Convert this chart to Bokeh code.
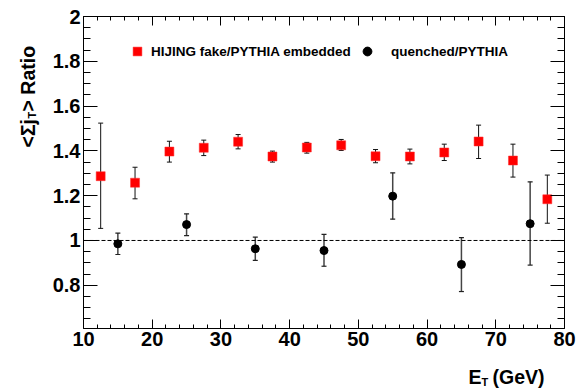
import math
from bokeh.plotting import figure
from bokeh.models import (ColumnDataSource, Whisker, TeeHead, Label, Legend, LegendItem,
                          LinearAxis, SingleIntervalTicker, CustomJSTickFormatter, Range1d)
from bokeh.embed import file_html
from bokeh.resources import INLINE

# ---- data ----
et_hijing = [12.5, 17.5, 22.5, 27.5, 32.5, 37.5, 42.5, 47.5, 52.5, 57.5, 62.5, 67.5, 72.5, 77.5]
ratio_hijing = [1.287, 1.258, 1.397, 1.414, 1.441, 1.375, 1.415, 1.425, 1.376, 1.375, 1.393, 1.442, 1.357, 1.184]
hi_hijing = [1.524, 1.327, 1.443, 1.448, 1.473, 1.399, 1.438, 1.451, 1.406, 1.408, 1.430, 1.515, 1.430, 1.292]
lo_hijing = [1.054, 1.186, 1.350, 1.379, 1.409, 1.350, 1.390, 1.402, 1.347, 1.342, 1.357, 1.366, 1.283, 1.077]

et_quench = [15, 25, 35, 45, 55, 65, 75]
ratio_quench = [0.985, 1.071, 0.963, 0.955, 1.198, 0.893, 1.075]
hi_quench = [1.033, 1.119, 1.015, 1.027, 1.302, 1.013, 1.262]
lo_quench = [0.9375, 1.022, 0.911, 0.885, 1.095, 0.772, 0.890]

label_hijing = "HIJING fake/PYTHIA embedded"
label_quench = "quenched/PYTHIA"
x_title = ["E", "T", "(GeV)"]
y_title = ["<\u03a3j", "T", ">\u00a0Ratio"]

# ---- layout constants (pixel box of the plotting area) ----
W, H = 586, 389
L, R, T, B = 83, 564, 16, 328
X0, X1 = 10, 80
Y0, Y1 = 0.607, 2.0
SX = (R - L) / (X1 - X0)
SY = (B - T) / (Y1 - Y0)

def xd(px):
    return X0 + (px - L) / SX

def yd(py):
    return Y1 - (py - T) / SY

FONT = "Liberation Sans"

p = figure(width=W, height=H, output_backend="svg", toolbar_location=None, title=None,
           x_range=Range1d(xd(0), xd(W)), y_range=Range1d(yd(H), yd(0)),
           x_axis_location=None, y_axis_location=None,
           min_border_left=0, min_border_right=0, min_border_top=0, min_border_bottom=0)
p.grid.visible = False
p.outline_line_color = None
p.background_fill_color = "white"
p.border_fill_color = "white"

yfmt = CustomJSTickFormatter(code="return Number(tick.toFixed(2)).toString();")

def make_axis(ticker, labels, major, minor, loc, bounds):
    ax = LinearAxis(ticker=ticker, axis_line_color="black", axis_line_width=1,
                    major_tick_line_color="black", minor_tick_line_color="black",
                    major_tick_in=major, major_tick_out=0, minor_tick_in=minor, minor_tick_out=0,
                    fixed_location=loc, bounds=bounds)
    if labels:
        ax.major_label_text_font = FONT
        ax.major_label_text_font_style = "bold"
        ax.major_label_text_font_size = "20px"
        ax.major_label_text_color = "black"
    else:
        ax.major_label_text_color = None
    return ax

xb = make_axis(SingleIntervalTicker(interval=10, num_minor_ticks=5), True, 9, 4, Y0, (X0, X1))
xb.major_label_standoff = 3
xt = make_axis(SingleIntervalTicker(interval=10, num_minor_ticks=5), False, 9, 4, Y1, (X0, X1))
yl = make_axis(SingleIntervalTicker(interval=0.2, num_minor_ticks=4), True, 14, 7, X0, (Y0, Y1))
yl.major_label_standoff = 3
yl.formatter = yfmt
yr = make_axis(SingleIntervalTicker(interval=0.2, num_minor_ticks=4), False, 14, 7, X1, (Y0, Y1))
p.add_layout(xb, "below")
p.add_layout(xt, "above")
p.add_layout(yl, "left")
p.add_layout(yr, "right")

# reference line at ratio 1
p.segment(x0=[X0], y0=[1.0], x1=[X1], y1=[1.0], line_color="black", line_width=1,
          line_dash="4 2")

src_h = ColumnDataSource(dict(x=et_hijing, y=ratio_hijing, hi=hi_hijing, lo=lo_hijing))
src_q = ColumnDataSource(dict(x=et_quench, y=ratio_quench, hi=hi_quench, lo=lo_quench))

wh = Whisker(base="x", upper="hi", lower="lo", source=src_h, level="underlay",
             line_color="#111111", line_width=1,
             upper_head=TeeHead(size=5, line_color="#111111", line_width=1),
             lower_head=TeeHead(size=5, line_color="#111111", line_width=1))
wq = Whisker(base="x", upper="hi", lower="lo", source=src_q, level="underlay",
             line_color="#444444", line_width=1.5,
             upper_head=TeeHead(size=5, line_color="#222222", line_width=1.2),
             lower_head=TeeHead(size=5, line_color="#222222", line_width=1.2))
p.add_layout(wh)
p.add_layout(wq)

r_h = p.scatter("x", "y", source=src_h, marker="square", size=9, fill_color="#ff0000",
                line_color="#ff3030", line_width=0.5)
r_q = p.scatter("x", "y", source=src_q, marker="circle", size=8, fill_color="black",
                line_color="black")

def mk_legend(item_label, rend, xloc, standoff):
    lg = Legend(items=[LegendItem(label=item_label, renderers=[rend])],
                location=(xloc, H - 51 - 11), orientation="horizontal",
                background_fill_alpha=0, border_line_color=None, padding=0, margin=0,
                spacing=0, glyph_width=22, glyph_height=22, label_height=22,
                label_standoff=standoff, label_text_font=FONT, label_text_font_style="bold",
                label_text_font_size="13.5px", label_text_color="black",
                label_text_baseline="middle")
    p.add_layout(lg, "center")

mk_legend(label_hijing, r_h, 137 - 11, 3)
mk_legend(label_quench, r_q, 367 - 11, 13)

# axis titles (with subscripts)
def lab(text, px, py, size, angle=0.0):
    p.add_layout(Label(x=xd(px), y=yd(py), text=text, angle=angle, text_font=FONT,
                       text_font_style="bold", text_font_size=size, text_color="black",
                       text_align="left", text_baseline="alphabetic"))

lab(x_title[0], 468, 376, "19.5px")
lab(x_title[1], 481, 381, "11px")
lab(x_title[2], 492, 376, "19.5px")

ang = math.pi / 2
lab(y_title[0], 27, 147, "19.5px", ang)
lab(y_title[1], 31, 118, "11px", ang)
lab(y_title[2], 27, 111, "19.5px", ang)

open("out.html", "w").write(file_html(p, INLINE))
